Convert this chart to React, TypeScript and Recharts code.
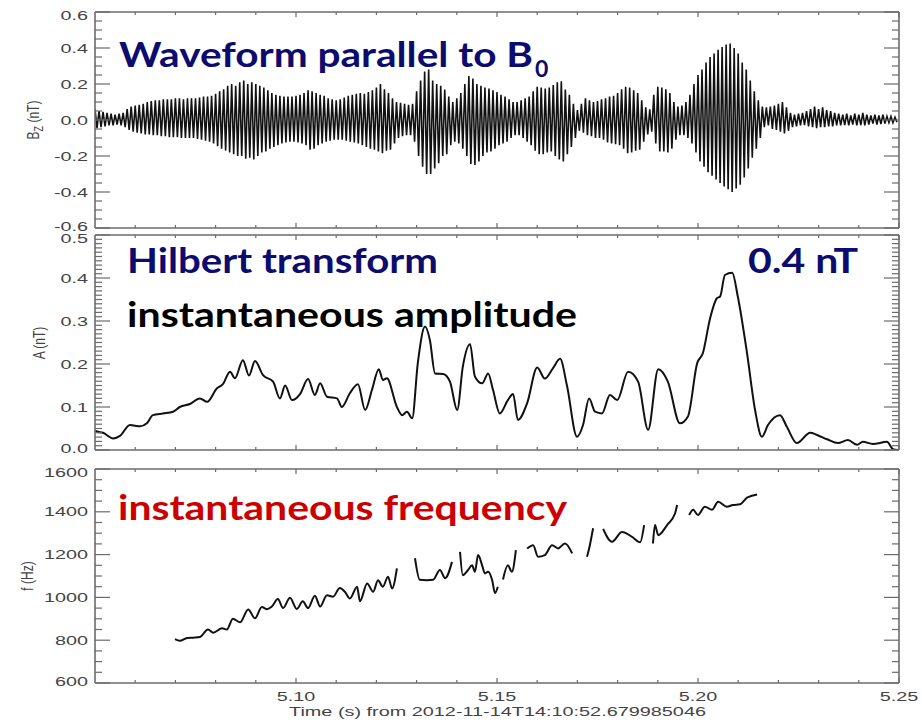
import React from 'react';
import { Line, LineChart, XAxis, YAxis } from 'recharts';

// time axis (s), shared by the three panels
const timeDomain: [number, number] = [5.05, 5.25];
const timeTicks = [
  5.06, 5.07, 5.08, 5.09, 5.1, 5.11, 5.12, 5.13, 5.14, 5.15,
  5.16, 5.17, 5.18, 5.19, 5.2, 5.21, 5.22, 5.23, 5.24, 5.25,
];
const timeMajors = [5.1, 5.15, 5.2, 5.25];
const timeLabels = [5.1, 5.15, 5.2, 5.25];

// panel 1: Bz waveform, one crest and one trough per millisecond
const waveStart = 5.05;
const waveStep = 0.001;
const bzUpper = [
  0.06, 0.05, 0.045, 0.04, 0.035, 0.03, 0.035, 0.04, 0.06, 0.075,
  0.08, 0.085, 0.09, 0.1, 0.105, 0.11, 0.11, 0.115, 0.115, 0.115,
  0.12, 0.12, 0.115, 0.12, 0.12, 0.12, 0.125, 0.13, 0.13, 0.135,
  0.145, 0.16, 0.17, 0.19, 0.2, 0.19, 0.21, 0.22, 0.2, 0.21,
  0.2, 0.19, 0.18, 0.165, 0.15, 0.14, 0.135, 0.13, 0.13, 0.13,
  0.135, 0.14, 0.15, 0.165, 0.16, 0.15, 0.14, 0.135, 0.12, 0.115,
  0.11, 0.115, 0.125, 0.135, 0.14, 0.145, 0.15, 0.145, 0.155, 0.165,
  0.18, 0.2, 0.17, 0.15, 0.12, 0.1, 0.095, 0.09, 0.085, 0.09,
  0.16, 0.22, 0.27, 0.28, 0.22, 0.2, 0.19, 0.17, 0.13, 0.1,
  0.12, 0.15, 0.2, 0.245, 0.23, 0.2, 0.19, 0.18, 0.175, 0.165,
  0.155, 0.14, 0.13, 0.115, 0.1, 0.1, 0.11, 0.12, 0.13, 0.16,
  0.185, 0.18, 0.175, 0.18, 0.195, 0.21, 0.215, 0.17, 0.14, 0.09,
  0.055, 0.09, 0.12, 0.11, 0.1, 0.105, 0.115, 0.12, 0.13, 0.135,
  0.15, 0.17, 0.185, 0.18, 0.165, 0.15, 0.11, 0.07, 0.06, 0.14,
  0.185, 0.18, 0.17, 0.15, 0.1, 0.075, 0.08, 0.1, 0.14, 0.2,
  0.25, 0.28, 0.32, 0.35, 0.37, 0.39, 0.405, 0.42, 0.425, 0.4,
  0.37, 0.32, 0.28, 0.22, 0.16, 0.11, 0.075, 0.07, 0.075, 0.08,
  0.09, 0.1, 0.07, 0.04, 0.03, 0.035, 0.04, 0.05, 0.06, 0.075,
  0.06, 0.07, 0.055, 0.05, 0.04, 0.035, 0.03, 0.035, 0.025, 0.035,
  0.03, 0.04, 0.03, 0.025, 0.03, 0.025, 0.03, 0.02, 0.02, 0.015,
];
const bzLower = [
  -0.045, -0.04, -0.035, -0.03, -0.03, -0.025, -0.03, -0.04, -0.055, -0.065,
  -0.07, -0.075, -0.08, -0.08, -0.085, -0.085, -0.09, -0.09, -0.095, -0.095,
  -0.095, -0.1, -0.1, -0.1, -0.1, -0.105, -0.11, -0.115, -0.12, -0.13,
  -0.145, -0.16, -0.17, -0.18, -0.19, -0.2, -0.2, -0.215, -0.21, -0.22,
  -0.2, -0.18, -0.175, -0.16, -0.15, -0.14, -0.13, -0.125, -0.12, -0.12,
  -0.125, -0.13, -0.14, -0.165, -0.16, -0.14, -0.13, -0.12, -0.115, -0.11,
  -0.11, -0.11, -0.115, -0.12, -0.125, -0.13, -0.14, -0.15, -0.16, -0.165,
  -0.175, -0.185, -0.17, -0.165, -0.13, -0.1, -0.09, -0.085, -0.085, -0.12,
  -0.2, -0.26, -0.3, -0.3, -0.27, -0.24, -0.2, -0.19, -0.14, -0.12,
  -0.13, -0.16, -0.2, -0.245, -0.25, -0.23, -0.2, -0.18, -0.175, -0.16,
  -0.14, -0.13, -0.12, -0.1, -0.085, -0.085, -0.1, -0.12, -0.14, -0.17,
  -0.19, -0.19, -0.18, -0.175, -0.2, -0.22, -0.23, -0.19, -0.15, -0.1,
  -0.06, -0.07, -0.085, -0.09, -0.1, -0.1, -0.11, -0.125, -0.13, -0.135,
  -0.14, -0.16, -0.185, -0.18, -0.17, -0.165, -0.12, -0.08, -0.065, -0.13,
  -0.175, -0.175, -0.18, -0.16, -0.11, -0.085, -0.085, -0.1, -0.13, -0.18,
  -0.23, -0.26, -0.29, -0.31, -0.33, -0.35, -0.37, -0.385, -0.4, -0.38,
  -0.36, -0.32, -0.27, -0.21, -0.16, -0.1, -0.04, -0.03, -0.05, -0.055,
  -0.065, -0.075, -0.06, -0.04, -0.035, -0.03, -0.028, -0.035, -0.04, -0.045,
  -0.04, -0.04, -0.035, -0.035, -0.03, -0.03, -0.028, -0.03, -0.025, -0.03,
  -0.028, -0.03, -0.025, -0.02, -0.025, -0.022, -0.02, -0.015, -0.015, -0.012,
];
const bzMajors = [-0.6, -0.4, -0.2, 0, 0.2, 0.4, 0.6];

// panel 2: Hilbert instantaneous amplitude (nT)
const ampTime = [
  5.05, 5.0505, 5.052, 5.0545, 5.0562, 5.0587, 5.0612, 5.0629, 5.0644, 5.0669,
  5.0694, 5.0711, 5.0736, 5.0761, 5.0779, 5.0803, 5.0818, 5.0836, 5.0848, 5.0868,
  5.0883, 5.0898, 5.0918, 5.0943, 5.096, 5.0973, 5.099, 5.101, 5.103, 5.1047,
  5.106, 5.1077, 5.1102, 5.1114, 5.1134, 5.1154, 5.1172, 5.1189, 5.1206, 5.1216,
  5.1226, 5.1251, 5.1264, 5.1276, 5.1289, 5.1303, 5.1321, 5.1333, 5.1346, 5.1366,
  5.1383, 5.1401, 5.1415, 5.1433, 5.1445, 5.1463, 5.1478, 5.149, 5.1507, 5.1527,
  5.154, 5.1552, 5.1575, 5.16, 5.1619, 5.1639, 5.1657, 5.1674, 5.1699, 5.1714,
  5.1729, 5.1744, 5.1761, 5.1781, 5.1799, 5.1826, 5.1851, 5.1876, 5.1901, 5.1925,
  5.1955, 5.1975, 5.1998, 5.2012, 5.203, 5.2047, 5.2055, 5.2067, 5.2085, 5.2099,
  5.2122, 5.2142, 5.2159, 5.2174, 5.2204, 5.2221, 5.2246, 5.2279, 5.2296, 5.2321,
  5.2348, 5.2373, 5.2396, 5.241, 5.2435, 5.247, 5.2485, 5.2498,
];
const ampValue = [
  0.045, 0.043, 0.04, 0.027, 0.033, 0.058, 0.055, 0.062, 0.081, 0.085,
  0.089, 0.1, 0.107, 0.12, 0.112, 0.143, 0.153, 0.182, 0.167, 0.209,
  0.173, 0.207, 0.174, 0.159, 0.12, 0.15, 0.116, 0.13, 0.165, 0.128,
  0.155, 0.124, 0.12, 0.1, 0.132, 0.153, 0.093, 0.14, 0.188, 0.163,
  0.167, 0.1, 0.081, 0.089, 0.074, 0.202, 0.287, 0.256, 0.178, 0.177,
  0.159, 0.093, 0.194, 0.246, 0.171, 0.155, 0.178, 0.14, 0.085, 0.116,
  0.13, 0.07, 0.109, 0.192, 0.166, 0.19, 0.212, 0.15, 0.031, 0.058,
  0.12, 0.089, 0.085, 0.128, 0.116, 0.182, 0.159, 0.047, 0.188, 0.159,
  0.062, 0.078, 0.202, 0.225, 0.306, 0.353, 0.357, 0.407, 0.412, 0.357,
  0.225, 0.093, 0.031, 0.058, 0.081, 0.054, 0.016, 0.04, 0.035, 0.025,
  0.016, 0.023, 0.012, 0.019, 0.014, 0.019, 0.002, 0.0,
];
const ampMajors = [0, 0.1, 0.2, 0.3, 0.4, 0.5];

// panel 3: instantaneous frequency (Hz); null marks a break in the trace
const freqTime = [
  5.0699, 5.0711, 5.0729, 5.0745, 5.0761, 5.0781, 5.0794, 5.0816, 5.0828, 5.0843,
  5.0861, 5.0881, 5.0898, 5.0915, 5.0928, 5.094, 5.0955, 5.0968, 5.0985, 5.1002,
  5.1017, 5.103, 5.1047, 5.106, 5.1077, 5.1092, 5.1109, 5.1122, 5.1134, 5.1152,
  5.1159, 5.1177, 5.1192, 5.1204, 5.1216, 5.1229, 5.1239, 5.1251, 5.1275,
  5.1296, 5.1308, 5.1326, 5.1341, 5.1358, 5.1371, 5.1388, 5.1398,
  5.1408, 5.1415, 5.1428, 5.1438, 5.1445, 5.1453, 5.1463, 5.147, 5.1478, 5.1488,
  5.1495, 5.1502, 5.1508,
  5.1515, 5.1527, 5.1537, 5.1547, 5.156,
  5.1575, 5.159, 5.1602, 5.1619, 5.1637, 5.1652, 5.1669, 5.1687, 5.17,
  5.1724, 5.1731, 5.1739, 5.175,
  5.1764, 5.1786, 5.1811, 5.1836, 5.1856, 5.1866, 5.1877,
  5.1888, 5.1893, 5.1901, 5.1923, 5.1943, 5.1948, 5.196,
  5.1978, 5.1988, 5.2, 5.2017, 5.2035, 5.205, 5.2072, 5.2087, 5.2104, 5.2122,
  5.2134, 5.2147,
];
const freqHz = [
  805, 797, 810, 812, 815, 850, 835, 856, 850, 900,
  884, 944, 902, 955, 945, 957, 992, 950, 998, 946,
  982, 950, 1008, 957, 1010, 1003, 1044, 1025, 995, 1050,
  982, 1065, 1026, 1080, 1050, 1096, 1042, 1136, null,
  1183, 1082, 1080, 1082, 1128, 1090, 1166, null,
  1213, 1104, 1128, 1150, 1120, 1198, 1150, 1112, 1120, 1080,
  1020, 1050, null,
  1084, 1150, 1120, 1221, null,
  1228, 1244, 1190, 1198, 1244, 1229, 1252, 1206, null,
  1190, 1244, 1323, null,
  1320, 1260, 1306, 1283, 1258, 1338, null,
  1252, 1338, 1291, 1338, 1393, 1432, null,
  1385, 1409, 1385, 1424, 1409, 1447, 1424, 1432, 1435, 1466,
  1475, 1481,
];
const freqMajors = [600, 800, 1000, 1200, 1400, 1600];

const FRAME = '#6b6b6b';
const LABEL = '#444';
const TRACE = '#111';
const NAVY = '#0c0c6e';
const RED = '#cc0000';
const AXIS_FONT = '"Liberation Sans", Arial, sans-serif';
const NOTE_FONT = 'Lato, "Open Sans", sans-serif';

const steps = (lo: number, hi: number, step: number) =>
  Array.from({ length: Math.round((hi - lo) / step) + 1 }, (_, i) => +(lo + i * step).toFixed(6));

type Side = 'left' | 'right' | 'top' | 'bottom';

const near = (list: number[], v: number) => list.some((m) => Math.abs(m - v) < 1e-7);

// inward IDL-style ticks; labels only where asked
const axisTick =
  (side: Side, majors: number[], labels: number[] = [], fmt?: (v: number) => string, edges?: [number, number]) =>
  (p: any) => {
    const v = Number(p.payload.value);
    const x = Number(p.x);
    const y = Number(p.y);
    const major = near(majors, v);
    const vertical = side === 'left' || side === 'right';
    const len = vertical ? (major ? 15 : 7) : major ? 5 : 3;
    const dx = side === 'left' ? len : side === 'right' ? -len : 0;
    const dy = side === 'bottom' ? -len : side === 'top' ? len : 0;
    const showLabel = fmt && near(labels, v);
    // labels at the frame corners sit a little inside, as in the original plot
    let shift = 0;
    if (edges && Math.abs(v - edges[1]) < 1e-7) shift = 3;
    if (edges && Math.abs(v - edges[0]) < 1e-7) shift = -2;
    return (
      <g>
        <line x1={x} y1={y} x2={x + dx} y2={y + dy} stroke={FRAME} strokeWidth={1.2} />
        {showLabel && side === 'left' && (
          <text
            transform={`translate(${x - 7} ${y + 4.5 + shift}) scale(1.65 1)`}
            textAnchor="end"
            fontFamily={AXIS_FONT}
            fontSize={12}
            fill={LABEL}
          >
            {fmt!(v)}
          </text>
        )}
        {showLabel && side === 'bottom' && (
          <text
            transform={`translate(${x} ${y + 18}) scale(1.65 1)`}
            textAnchor="middle"
            fontFamily={AXIS_FONT}
            fontSize={12}
            fill={LABEL}
          >
            {fmt!(v)}
          </text>
        )}
      </g>
    );
  };

interface PanelProps {
  top: number;
  height: number;
  marginTop: number;
  marginBottom: number;
  bottomAxisHeight: number;
  data: Record<string, number | null>[];
  dataKey: string;
  yDomain: [number, number];
  yTicks: number[];
  yMajors: number[];
  yFmt: (v: number) => string;
  timeAxisLabels: boolean;
  curve: 'linear' | 'monotone';
  strokeWidth: number;
}

const Panel: React.FC<PanelProps> = ({
  top,
  height,
  marginTop,
  marginBottom,
  bottomAxisHeight,
  data,
  dataKey,
  yDomain,
  yTicks,
  yMajors,
  yFmt,
  timeAxisLabels,
  curve,
  strokeWidth,
}) => {
  const frameLine = { stroke: FRAME, strokeWidth: 1.6 };
  return (
    <div style={{ position: 'absolute', left: 0, top }}>
      <LineChart
        width={922}
        height={height}
        data={data}
        margin={{ top: marginTop, right: 22, bottom: marginBottom, left: 0 }}
      >
        <XAxis
          xAxisId="bottom"
          dataKey="t"
          type="number"
          domain={timeDomain}
          allowDataOverflow
          ticks={timeTicks}
          interval={0}
          height={bottomAxisHeight}
          tickSize={0}
          tickMargin={0}
          tickLine={false}
          axisLine={frameLine}
          tick={axisTick('bottom', timeMajors, timeAxisLabels ? timeLabels : [], (v) => v.toFixed(2))}
          label={
            timeAxisLabels
              ? {
                  position: 'insideBottom',
                  content: ({ viewBox }: any) => (
                    <text
                      x={viewBox.x + viewBox.width / 2 - 208}
                      y={viewBox.y + 33}
                      textLength={417}
                      lengthAdjust="spacingAndGlyphs"
                      fontFamily={AXIS_FONT}
                      fontSize={12}
                      fill={LABEL}
                    >
                      Time (s) from 2012-11-14T14:10:52.679985046
                    </text>
                  ),
                }
              : undefined
          }
        />
        <XAxis
          xAxisId="top"
          orientation="top"
          dataKey="t"
          type="number"
          domain={timeDomain}
          allowDataOverflow
          ticks={timeTicks}
          interval={0}
          height={1}
          tickSize={0}
          tickMargin={0}
          tickLine={false}
          axisLine={frameLine}
          tick={axisTick('top', timeMajors)}
        />
        <YAxis
          yAxisId="left"
          type="number"
          domain={yDomain}
          allowDataOverflow
          ticks={yTicks}
          interval={0}
          width={95}
          tickSize={0}
          tickMargin={0}
          tickLine={false}
          axisLine={frameLine}
          tick={axisTick('left', yMajors, yMajors, yFmt, yDomain)}
        />
        <YAxis
          yAxisId="right"
          orientation="right"
          type="number"
          domain={yDomain}
          allowDataOverflow
          ticks={yTicks}
          interval={0}
          width={1}
          tickSize={0}
          tickMargin={0}
          tickLine={false}
          axisLine={frameLine}
          tick={axisTick('right', yMajors)}
        />
        <Line
          xAxisId="bottom"
          yAxisId="left"
          type={curve}
          dataKey={dataKey}
          stroke={TRACE}
          strokeWidth={strokeWidth}
          dot={false}
          connectNulls={false}
          isAnimationActive={false}
        />
      </LineChart>
    </div>
  );
};

const App: React.FC = () => {
  const waveRows = bzUpper.flatMap((hi, i) => [
    { t: waveStart + i * waveStep, bz: hi },
    { t: waveStart + (i + 0.5) * waveStep, bz: bzLower[i] },
  ]);
  const ampRows = ampTime.map((t, i) => ({ t, a: ampValue[i] }));
  const freqRows = freqTime.map((t, i) => ({ t, f: freqHz[i] }));

  return (
    <div style={{ position: 'absolute', left: 0, top: 0, width: 922, height: 720, background: '#fff' }}>
      <Panel
        top={0}
        height={240}
        marginTop={11}
        marginBottom={11}
        bottomAxisHeight={1}
        data={waveRows}
        dataKey="bz"
        yDomain={[-0.6, 0.6]}
        yTicks={steps(-0.6, 0.6, 0.05)}
        yMajors={bzMajors}
        yFmt={(v) => v.toFixed(1)}
        timeAxisLabels={false}
        curve="linear"
        strokeWidth={1.6}
      />
      <Panel
        top={222}
        height={240}
        marginTop={12}
        marginBottom={11}
        bottomAxisHeight={1}
        data={ampRows}
        dataKey="a"
        yDomain={[0, 0.5]}
        yTicks={steps(0, 0.5, 0.01)}
        yMajors={ampMajors}
        yFmt={(v) => v.toFixed(1)}
        timeAxisLabels={false}
        curve="monotone"
        strokeWidth={2}
      />
      <Panel
        top={455}
        height={265}
        marginTop={13}
        marginBottom={0}
        bottomAxisHeight={37}
        data={freqRows}
        dataKey="f"
        yDomain={[600, 1600]}
        yTicks={steps(600, 1600, 50)}
        yMajors={freqMajors}
        yFmt={(v) => String(Math.round(v))}
        timeAxisLabels
        curve="monotone"
        strokeWidth={2}
      />
      <svg
        width={922}
        height={720}
        style={{ position: 'absolute', left: 0, top: 0, pointerEvents: 'none' }}
      >
        <g fontFamily={AXIS_FONT} fontSize={12} fill={LABEL}>
          <text transform="translate(39 120) rotate(-90) scale(1 1.4)" textAnchor="middle">
            B<tspan dy={3} fontSize={9}>Z</tspan>
            <tspan dy={-3}> (nT)</tspan>
          </text>
          <text transform="translate(45 343) rotate(-90) scale(1 1.4)" textAnchor="middle">
            A (nT)
          </text>
          <text transform="translate(33 576) rotate(-90) scale(1 1.4)" textAnchor="middle">
            f (Hz)
          </text>
        </g>
        <g fontFamily={NOTE_FONT} fontWeight={700} fontSize={34}>
          <text x={119} y={67} fill={NAVY} textLength={414} lengthAdjust="spacingAndGlyphs">
            Waveform parallel to B
          </text>
          <text x={535} y={77} fill={NAVY} fontSize={23}>
            0
          </text>
          <text x={127} y={273} fill={NAVY} textLength={311} lengthAdjust="spacingAndGlyphs">
            Hilbert transform
          </text>
          <text x={748} y={273} fill={NAVY} textLength={110} lengthAdjust="spacingAndGlyphs">
            0.4 nT
          </text>
          <text x={127} y={327} fill="#000" textLength={450} lengthAdjust="spacingAndGlyphs">
            instantaneous amplitude
          </text>
          <text x={118} y={520} fill={RED} textLength={449} lengthAdjust="spacingAndGlyphs">
            instantaneous frequency
          </text>
        </g>
      </svg>
    </div>
  );
};

export default App;
